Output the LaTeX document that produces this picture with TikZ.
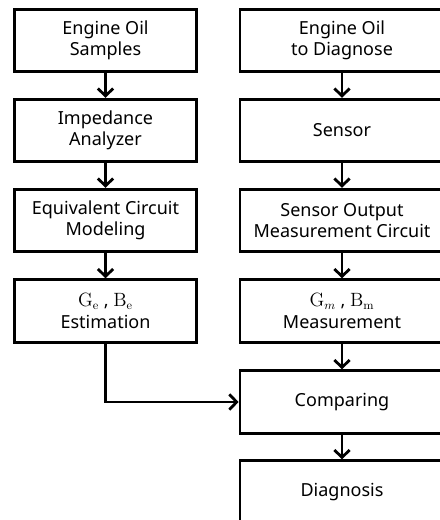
\documentclass[tikz,border=0pt]{standalone}
\usepackage{amsmath}
\usepackage[no-math]{fontspec}
\setmainfont{Noto Sans}
\usepackage{tikz}
\usetikzlibrary{arrows.meta}

\begin{document}
\begin{tikzpicture}[x=0.75pt,y=-0.75pt,
box/.style={draw,line width=2.1pt,align=center,inner sep=0pt,
 minimum height=47pt,font=\fontsize{13.5}{15.8}\selectfont},
lbox/.style={box,minimum width=137pt},
rbox/.style={box,minimum width=153pt},
flow/.style={line width=2.1pt,-{Straight Barb[length=5.5pt,width=11.5pt]}}
]
\useasboundingbox (0,0) rectangle (439,520);
\node[lbox] (samples) at (105.5,40.5) {Engine Oil\\Samples};
\node[lbox] (analyzer) at (105.5,130.5) {Impedance\\Analyzer};
\node[lbox] (model) at (105.5,220.5) {Equivalent Circuit\\Modeling};
\node[lbox] (estim) at (105.5,311) {$\mathrm{G_e}$ , $\mathrm{B_e}$\\Estimation};
\node[rbox] (oil) at (342,40.5) {Engine Oil\\to Diagnose};
\node[rbox] (sensor) at (342,130.5) {Sensor};
\node[rbox] (circuit) at (342,220.5) {Sensor Output\\Measurement Circuit};
\node[rbox] (meas) at (342,311) {$\mathrm{G}_{m}$ , $\mathrm{B_m}$\\Measurement};
\node[rbox] (comp) at (342,402) {Comparing};
\node[rbox] (diag) at (342,492) {Diagnosis};
\draw[flow] (samples) -- (analyzer);
\draw[flow] (analyzer) -- (model);
\draw[flow] (model) -- (estim);
\draw[flow] (oil) -- (sensor);
\draw[flow] (sensor) -- (circuit);
\draw[flow] (circuit) -- (meas);
\draw[flow] (meas) -- (comp);
\draw[flow] (comp) -- (diag);
\draw[flow] (estim.south) |- (comp.west);
\end{tikzpicture}
\end{document}
